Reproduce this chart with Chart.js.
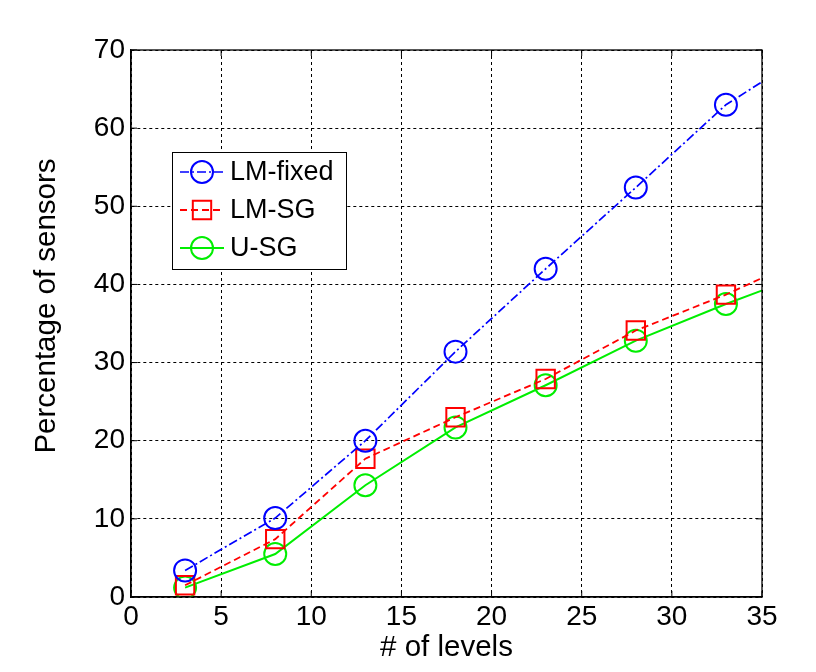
<!DOCTYPE html>
<html>
<head>
<meta charset="utf-8">
<script src="https://cdn.jsdelivr.net/npm/chart.js@4.4.1/dist/chart.umd.min.js"></script>
<style>
  html, body { margin: 0; padding: 0; background: #fff; }
  #wrap { width: 816px; height: 672px; position: relative; }
</style>
</head>
<body>
<div id="wrap"><canvas id="chart"></canvas></div>
<script>
// values; last x (38) is where the lines run past the right edge
const levels = [3, 8, 13, 18, 23, 28, 33, 38];
const lmFixed = [3.4, 10.1, 20.0, 31.4, 42.0, 52.4, 63.0, 70.3];
const lmSG = [1.5, 7.4, 17.7, 23.0, 27.9, 34.1, 38.7, 44.0];
const uSG = [1.2, 5.5, 14.3, 21.7, 27.1, 32.8, 37.5, 41.8];

const X_MAX = 35;
const FONT = 'Liberation Sans, Arial, sans-serif';
const Y_TITLE = 'Percentage of sensors';

const toXY = (vals) => vals.map((v, i) => ({ x: levels[i], y: v }));
// no marker for the point that lies outside the axes
const radiusInside = (r) => (c) => (c.raw && c.raw.x > X_MAX ? 0 : r);

const series = [
  { label: 'LM-fixed', data: toXY(lmFixed), color: '#0000ff', dash: [9, 3, 2, 3], style: 'circle', r: 11, lw: 1.7 },
  { label: 'LM-SG', data: toXY(lmSG), color: '#ff0000', dash: [7, 4], style: 'rect', r: 13, lw: 1.8 },
  { label: 'U-SG', data: toXY(uSG), color: '#00ee00', dash: [], style: 'circle', r: 11, lw: 2 }
];

// MATLAB-like box around the axes plus inward ticks, and the y label
const boxPlugin = {
  id: 'box',
  afterDatasetsDraw(chart) {
    const { ctx, chartArea: a, scales } = chart;
    ctx.save();
    ctx.strokeStyle = '#000';
    ctx.lineWidth = 1.3;
    ctx.setLineDash([]);
    ctx.strokeRect(a.left, a.top, a.right - a.left, a.bottom - a.top);
    ctx.lineWidth = 1;
    ctx.beginPath();
    scales.x.ticks.forEach(t => {
      const px = scales.x.getPixelForValue(t.value);
      ctx.moveTo(px, a.bottom); ctx.lineTo(px, a.bottom - 6);
      ctx.moveTo(px, a.top); ctx.lineTo(px, a.top + 6);
    });
    scales.y.ticks.forEach(t => {
      const py = scales.y.getPixelForValue(t.value);
      ctx.moveTo(a.left, py); ctx.lineTo(a.left + 6, py);
      ctx.moveTo(a.right, py); ctx.lineTo(a.right - 6, py);
    });
    ctx.stroke();

    // y axis label, sits a little above the axis centre like the original
    ctx.translate(47, 306);
    ctx.rotate(-Math.PI / 2);
    ctx.fillStyle = '#000';
    ctx.font = '29.5px ' + FONT;
    ctx.textAlign = 'center';
    ctx.textBaseline = 'middle';
    ctx.fillText(Y_TITLE, 0, 0);
    ctx.restore();
  }
};

// legend box inside the axes, upper left
const legendPlugin = {
  id: 'inLegend',
  afterDraw(chart) {
    const { ctx } = chart;
    const bx = 172, by = 152, bw = 174, bh = 117;
    ctx.save();
    ctx.fillStyle = '#fff';
    ctx.fillRect(bx, by, bw, bh);
    ctx.strokeStyle = '#000';
    ctx.lineWidth = 1;
    ctx.strokeRect(bx + 0.5, by + 0.5, bw, bh);
    chart.data.datasets.forEach((ds, i) => {
      const y = by + 20 + i * 38;
      ctx.strokeStyle = ds.borderColor;
      ctx.lineWidth = ds.borderWidth;
      ctx.setLineDash(ds.borderDash || []);
      ctx.beginPath();
      ctx.moveTo(180, y); ctx.lineTo(224, y);
      ctx.stroke();
      ctx.setLineDash([]);
      ctx.fillStyle = 'rgba(0,0,0,0)';
      ctx.strokeStyle = ds.borderColor;
      ctx.lineWidth = 2;
      Chart.helpers.drawPoint(ctx, {
        pointStyle: ds.pointStyle, radius: ds.legendRadius, borderWidth: 2, rotation: 0
      }, 202, y);
      ctx.fillStyle = '#000';
      ctx.font = '27px ' + FONT;
      ctx.textBaseline = 'middle';
      ctx.textAlign = 'left';
      ctx.fillText(ds.label, 230, y + 1);
    });
    ctx.restore();
  }
};

const chart = new Chart(document.getElementById('chart'), {
  type: 'line',
  data: {
    datasets: series.map(s => ({
      label: s.label,
      data: s.data,
      borderColor: s.color,
      borderWidth: s.lw,
      borderDash: s.dash,
      backgroundColor: 'transparent',
      pointStyle: s.style,
      pointRadius: radiusInside(s.r),
      pointHoverRadius: radiusInside(s.r),
      pointBorderColor: s.color,
      pointBackgroundColor: 'transparent',
      pointBorderWidth: 2,
      legendRadius: s.r,
      tension: 0,
      fill: false
    }))
  },
  options: {
    responsive: true,
    maintainAspectRatio: false,
    animation: false,
    events: [],
    layout: { padding: { left: 0, top: 50, right: 54, bottom: 0 } },
    plugins: {
      legend: { display: false },
      tooltip: { enabled: false }
    },
    scales: {
      x: {
        type: 'linear',
        min: 0,
        max: X_MAX,
        ticks: { stepSize: 5, color: '#000', padding: 3, font: { family: FONT, size: 28 } },
        grid: { color: '#000', lineWidth: 1, drawTicks: false },
        border: { display: true, color: '#000', width: 1.3, dash: [3, 3] },
        title: { display: true, text: '# of levels', color: '#000', padding: { top: 0, bottom: 6 }, font: { family: FONT, size: 29.5 } },
        afterFit: (s) => { s.height = 75; }
      },
      y: {
        type: 'linear',
        min: 0,
        max: 70,
        ticks: { stepSize: 10, color: '#000', padding: 6, font: { family: FONT, size: 28 } },
        grid: { color: '#000', lineWidth: 1, drawTicks: false },
        border: { display: true, color: '#000', width: 1.3, dash: [3, 3] },
        title: { display: false },
        afterFit: (s) => { s.width = 131; }
      }
    }
  },
  plugins: [boxPlugin, legendPlugin]
});
</script>
</body>
</html>
